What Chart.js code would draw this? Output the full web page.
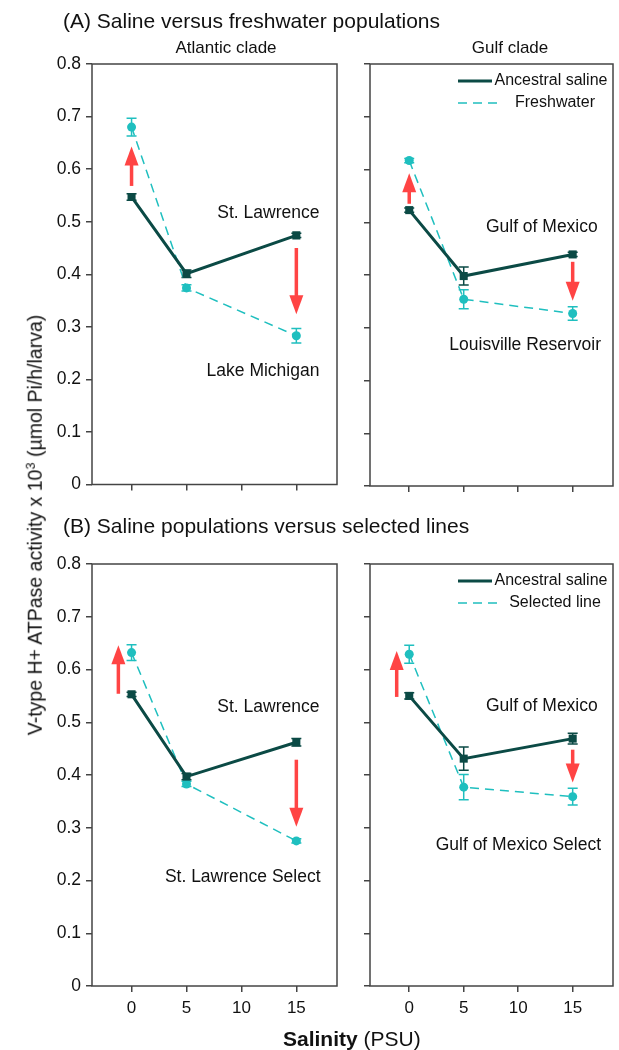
<!DOCTYPE html>
<html>
<head>
<meta charset="utf-8">
<script src="https://cdn.jsdelivr.net/npm/chart.js@4.4.1/dist/chart.umd.min.js"></script>
<style>
  body { margin: 0; background: #fff; font-family: "Liberation Sans", Arial, sans-serif; color: #111; }
  #wrap { position: relative; width: 619px; height: 1050px; overflow: hidden; }
  canvas { position: absolute; }
  .txt { position: absolute; white-space: nowrap; transform: translateY(-50%); line-height: 1; }
</style>
</head>
<body>
<div id="wrap">
  <canvas id="chartA1" width="345" height="500" style="left:0;top:0"></canvas>
  <canvas id="chartA2" width="274" height="500" style="left:345px;top:0"></canvas>
  <canvas id="chartB1" width="345" height="550" style="left:0;top:500px"></canvas>
  <canvas id="chartB2" width="274" height="550" style="left:345px;top:500px"></canvas>

  <div class="txt" style="left:63px;top:20px;font-size:21px">(A) Saline versus freshwater populations</div>
  <div class="txt" style="left:63px;top:525px;font-size:21px">(B) Saline populations versus selected lines</div>
  <div class="txt" style="left:226px;top:47px;font-size:17px;transform:translate(-50%,-50%)">Atlantic clade</div>
  <div class="txt" style="left:510px;top:47px;font-size:17px;transform:translate(-50%,-50%)">Gulf clade</div>
  <div class="txt" style="left:35px;top:525px;font-size:19.5px;transform:translate(-50%,-50%) rotate(-90deg)">V-type H+ ATPase activity x 10<sup style="font-size:0.65em;vertical-align:0.55em">3</sup> (µmol Pi/h/larva)</div>
  <div class="txt" style="left:283px;top:1038px;font-size:21px"><b>Salinity</b> (PSU)</div>
</div>

<script>
// salinity levels (PSU)
const salinity = [0, 5, 15];
const xTicks = [0, 5, 10, 15];

// (A) Atlantic clade: St. Lawrence vs Lake Michigan
const atlAncestral = [0.547, 0.401, 0.474];
const atlAncestralErr = [0.006, 0.007, 0.004];
const atlFresh = [0.680, 0.374, 0.283];
const atlFreshErr = [0.017, 0.006, 0.014];

// (A) Gulf clade: Gulf of Mexico vs Louisville Reservoir
const gulfAncestral = [0.523, 0.398, 0.439];
const gulfAncestralErr = [0.004, 0.017, 0.004];
const gulfFresh = [0.617, 0.354, 0.327];
const gulfFreshErr = [0.004, 0.018, 0.013];

// (B) St. Lawrence vs St. Lawrence Select
const slAncestral = [0.553, 0.397, 0.462];
const slAncestralErr = [0.004, 0.006, 0.007];
const slSelected = [0.632, 0.383, 0.275];
const slSelectedErr = [0.015, 0.005, 0.004];

// (B) Gulf of Mexico vs Gulf of Mexico Select
const gmAncestral = [0.550, 0.431, 0.469];
const gmAncestralErr = [0.006, 0.022, 0.010];
const gmSelected = [0.629, 0.377, 0.359];
const gmSelectedErr = [0.017, 0.024, 0.016];

const DARK = '#0b4a45';
const CYAN = '#1fbfbf';
const RED = '#ff4444';
const AXIS = '#444';
const FONT = '"Liberation Sans", Arial, sans-serif';

function pts(ys) {
    return salinity.map((x, i) => ({ x: x, y: ys[i] }));
}

function drawArrow(ctx, x, y0, y1) {
    const dir = y1 < y0 ? -1 : 1;
    const head = 19;
    ctx.save();
    ctx.strokeStyle = RED;
    ctx.fillStyle = RED;
    ctx.lineWidth = 3.5;
    ctx.beginPath();
    ctx.moveTo(x, y0);
    ctx.lineTo(x, y1 - dir * (head - 2));
    ctx.stroke();
    ctx.beginPath();
    ctx.moveTo(x, y1);
    ctx.lineTo(x - 7, y1 - dir * head);
    ctx.lineTo(x + 7, y1 - dir * head);
    ctx.closePath();
    ctx.fill();
    ctx.restore();
}

function extras(cfg) {
    return {
        id: 'extras',
        beforeDatasetsDraw(chart) {
            const ctx = chart.ctx;
            const xs = chart.scales.x, ys = chart.scales.y;
            chart.data.datasets.forEach((ds, i) => {
                const err = cfg.errors[i];
                ctx.save();
                ctx.strokeStyle = ds.borderColor;
                ctx.lineWidth = 1.5;
                ds.data.forEach((p, j) => {
                    const px = xs.getPixelForValue(p.x);
                    const top = ys.getPixelForValue(p.y + err[j]);
                    const bot = ys.getPixelForValue(p.y - err[j]);
                    ctx.beginPath();
                    ctx.moveTo(px, top); ctx.lineTo(px, bot);
                    ctx.moveTo(px - 5, top); ctx.lineTo(px + 5, top);
                    ctx.moveTo(px - 5, bot); ctx.lineTo(px + 5, bot);
                    ctx.stroke();
                });
                ctx.restore();
            });
        },
        afterDraw(chart) {
            const ctx = chart.ctx;
            const a = chart.chartArea;
            const xs = chart.scales.x, ys = chart.scales.y;
            ctx.save();
            ctx.strokeStyle = AXIS;
            ctx.lineWidth = 1.5;
            ctx.strokeRect(a.left, a.top, a.right - a.left, a.bottom - a.top);
            ctx.restore();

            cfg.arrows.forEach(ar => {
                drawArrow(ctx, xs.getPixelForValue(ar.x), ys.getPixelForValue(ar.from), ys.getPixelForValue(ar.to));
            });

            ctx.save();
            ctx.fillStyle = '#111';
            ctx.font = '17.5px ' + FONT;
            ctx.textAlign = 'right';
            ctx.textBaseline = 'middle';
            cfg.labels.forEach(l => {
                ctx.fillText(l.text, xs.getPixelForValue(l.x), ys.getPixelForValue(l.y));
            });
            ctx.restore();

            if (cfg.legend) {
                ctx.save();
                const y1 = a.top + 17, y2 = a.top + 39;
                ctx.strokeStyle = DARK;
                ctx.lineWidth = 3;
                ctx.beginPath(); ctx.moveTo(a.right - 155, y1); ctx.lineTo(a.right - 121, y1); ctx.stroke();
                ctx.strokeStyle = CYAN;
                ctx.lineWidth = 1.5;
                ctx.setLineDash([9, 6]);
                ctx.beginPath(); ctx.moveTo(a.right - 155, y2); ctx.lineTo(a.right - 111, y2); ctx.stroke();
                ctx.setLineDash([]);
                ctx.fillStyle = '#111';
                ctx.font = '16px ' + FONT;
                ctx.textAlign = 'center';
                ctx.textBaseline = 'middle';
                ctx.fillText(cfg.legend[0], a.right - 62, y1);
                ctx.fillText(cfg.legend[1], a.right - 58, y2);
                ctx.restore();
            }
        }
    };
}

function makePanel(id, anc, ancErr, other, otherErr, opt) {
    const ctx = document.getElementById(id).getContext('2d');
    return new Chart(ctx, {
        type: 'line',
        data: {
            datasets: [
                {
                    label: 'Ancestral saline',
                    data: pts(anc),
                    borderColor: DARK,
                    backgroundColor: DARK,
                    borderWidth: 3,
                    pointStyle: 'rect',
                    pointRadius: 5.7,
                    pointBorderWidth: 0,
                    tension: 0
                },
                {
                    label: opt.legend ? opt.legend[1] : 'other',
                    data: pts(other),
                    borderColor: CYAN,
                    backgroundColor: CYAN,
                    borderWidth: 1.5,
                    borderDash: [9, 6],
                    pointStyle: 'circle',
                    pointRadius: 4.5,
                    pointBorderWidth: 0,
                    tension: 0
                }
            ]
        },
        options: {
            responsive: false,
            animation: false,
            devicePixelRatio: 1,
            layout: { padding: opt.padding },
            plugins: { legend: { display: false }, tooltip: { enabled: false } },
            scales: {
                x: {
                    type: 'linear',
                    min: -3.6,
                    max: 18.7,
                    afterBuildTicks: s => { s.ticks = xTicks.map(v => ({ value: v })); },
                    afterFit: s => { s.height = opt.xHeight; },
                    border: { display: false },
                    grid: { drawOnChartArea: false, drawTicks: true, tickLength: 6, color: AXIS, lineWidth: 1.5 },
                    ticks: { display: opt.xLabels, padding: 6, color: '#111', font: { family: FONT, size: 17 }, maxRotation: 0 }
                },
                y: {
                    min: 0,
                    max: 0.8,
                    afterFit: s => { s.width = opt.yWidth; },
                    border: { display: false },
                    grid: { drawOnChartArea: false, drawTicks: true, tickLength: 6, color: AXIS, lineWidth: 1.5 },
                    ticks: { display: opt.yLabels, stepSize: 0.1, padding: 5, color: '#111', font: { family: FONT, size: 17.5 } }
                }
            }
        },
        plugins: [extras({
            errors: [ancErr, otherErr],
            arrows: opt.arrows,
            labels: opt.labels,
            legend: opt.legend
        })]
    });
}

makePanel('chartA1', atlAncestral, atlAncestralErr, atlFresh, atlFreshErr, {
    padding: { top: 64, right: 8, bottom: 0, left: 0 },
    xHeight: 14, yWidth: 92, xLabels: false, yLabels: true,
    arrows: [{ x: 0, from: 0.568, to: 0.643 }, { x: 15, from: 0.450, to: 0.324 }],
    labels: [{ text: 'St. Lawrence', x: 17.1, y: 0.517 }, { text: 'Lake Michigan', x: 17.1, y: 0.216 }]
});

makePanel('chartA2', gulfAncestral, gulfAncestralErr, gulfFresh, gulfFreshErr, {
    padding: { top: 64, right: 6, bottom: 0, left: 0 },
    xHeight: 14, yWidth: 25, xLabels: false, yLabels: false,
    arrows: [{ x: 0, from: 0.535, to: 0.593 }, { x: 15, from: 0.425, to: 0.351 }],
    labels: [{ text: 'Gulf of Mexico', x: 17.3, y: 0.491 }, { text: 'Louisville Reservoir', x: 17.6, y: 0.267 }],
    legend: ['Ancestral saline', 'Freshwater']
});

makePanel('chartB1', slAncestral, slAncestralErr, slSelected, slSelectedErr, {
    padding: { top: 64, right: 8, bottom: 24, left: 0 },
    xHeight: 40, yWidth: 92, xLabels: true, yLabels: true,
    arrows: [{ x: -1.2, from: 0.554, to: 0.646 }, { x: 15, from: 0.429, to: 0.302 }],
    labels: [{ text: 'St. Lawrence', x: 17.1, y: 0.528 }, { text: 'St. Lawrence Select', x: 17.2, y: 0.206 }]
});

makePanel('chartB2', gmAncestral, gmAncestralErr, gmSelected, gmSelectedErr, {
    padding: { top: 64, right: 6, bottom: 24, left: 0 },
    xHeight: 40, yWidth: 25, xLabels: true, yLabels: false,
    arrows: [{ x: -1.15, from: 0.548, to: 0.635 }, { x: 15, from: 0.448, to: 0.386 }],
    labels: [{ text: 'Gulf of Mexico', x: 17.3, y: 0.530 }, { text: 'Gulf of Mexico Select', x: 17.6, y: 0.267 }],
    legend: ['Ancestral saline', 'Selected line']
});
</script>
</body>
</html>
